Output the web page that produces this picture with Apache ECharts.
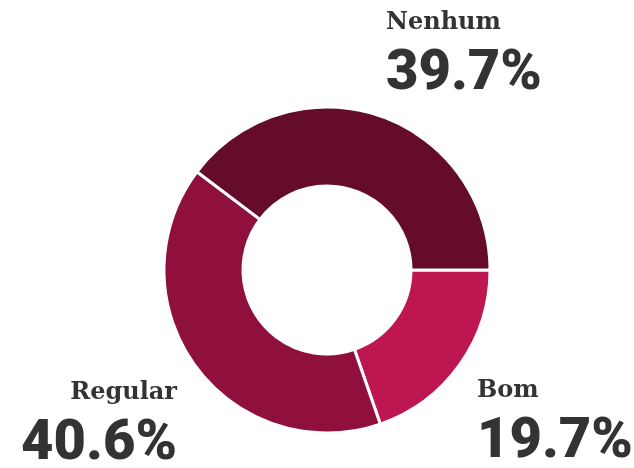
<!DOCTYPE html>
<html>
<head>
<meta charset="utf-8">
<script src="https://cdn.jsdelivr.net/npm/echarts@6/dist/echarts.min.js"></script>
<style>
html,body{margin:0;padding:0;background:#fff;}
#c{width:634px;height:468px;}
</style>
</head>
<body>
<div id="c"></div>
<script>
var categories = ['Bom', 'Regular', 'Nenhum'];
var values = [19.7, 40.6, 39.7];
var valueLabels = ['19.7%', '40.6%', '39.7%'];
var colors = ['#BD1650', '#8F103C', '#650C2B'];

var labelPos = {
  'Bom':     {x: 477, y: 376, align: 'left'},
  'Regular': {x: 177, y: 378, align: 'right'},
  'Nenhum':  {x: 386, y: 8,   align: 'left'}
};

var chart = echarts.init(document.getElementById('c'), null, {renderer: 'canvas'});
chart.setOption({
  animation: false,
  series: [{
    type: 'pie',
    center: [327, 270],
    radius: [84, 163],
    startAngle: 0,
    clockwise: true,
    avoidLabelOverlap: false,
    itemStyle: {borderColor: '#fff', borderWidth: 3},
    emphasis: {disabled: true},
    labelLine: {show: false},
    label: {
      show: true,
      position: 'outside',
      formatter: function (p) { return '{n|' + p.name + '}\n{v|' + valueLabels[p.dataIndex] + '}'; },
      rich: {
        n: {fontFamily: 'DejaVu Serif', fontWeight: 'bold', fontSize: 24, lineHeight: 30, color: '#333'},
        v: {fontFamily: 'Roboto', fontWeight: 900, fontSize: 56, lineHeight: 74, color: '#333'}
      }
    },
    labelLayout: function (params) {
      var p = labelPos[categories[params.dataIndex]];
      return {x: p.x, y: p.y, align: p.align, verticalAlign: 'top'};
    },
    data: categories.map(function (c, i) {
      return {name: c, value: values[i], itemStyle: {color: colors[i]},
              label: {align: labelPos[c].align}};
    })
  }]
});
</script>
</body>
</html>
